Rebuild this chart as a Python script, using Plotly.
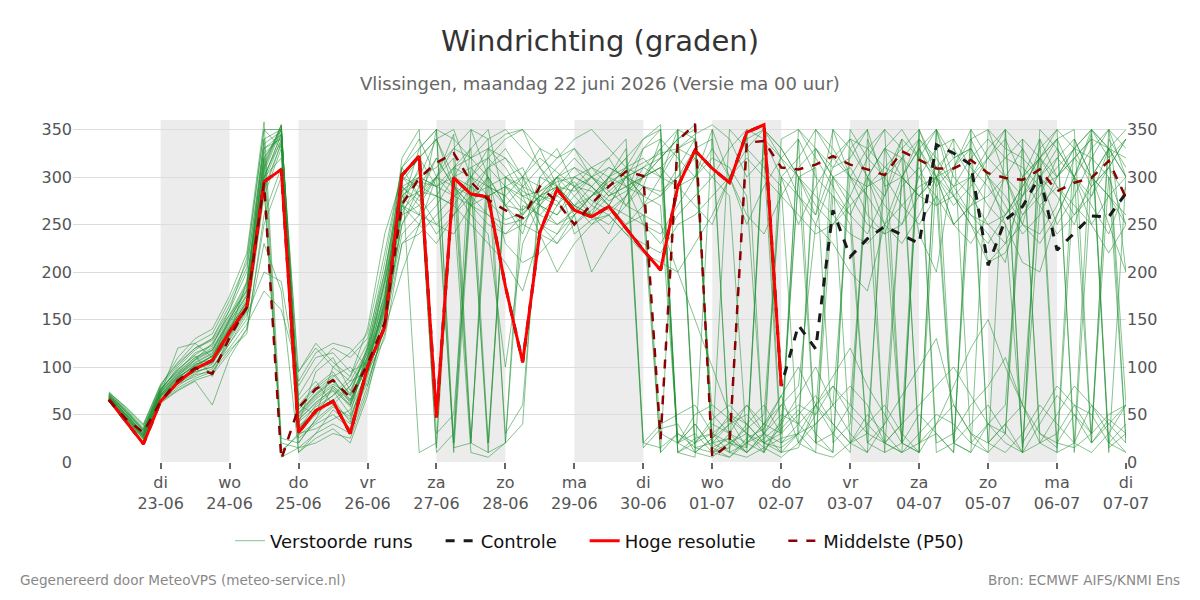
import pandas as pd
import plotly.graph_objects as go

# ---- data ----
times = pd.date_range("2026-06-22 06:00", periods=60, freq="6h")

hoge_resolutie = [66, 43, 19, 64, 84, 98, 107, 137, 163, 295, 308, 31, 54, 64, 30, 100, 142,
                  302, 322, 47, 299, 282, 279, 185, 105, 242, 287, 265, 258, 269, 246, 223, 202,
                  290, 328, 309, 294, 347, 355, 80]
controle = hoge_resolutie[:39] + [80, 144, 119, 265, 216, 235, 248, 239, 230, 334, 325, 313,
                                  207, 255, 269, 301, 223, 241, 259, 258, 283]
middelste = [65, 45, 31, 64, 86, 99, 93, 131, 163, 294, 3, 57, 77, 86, 68, 103, 147,
             271, 299, 315, 325, 295, 276, 265, 257, 290, 274, 250, 272, 290, 306, 301, 24,
             338, 356, 5, 19, 336, 338, 310, 308, 313, 322, 313, 308, 302, 327, 318, 309,
             309, 318, 304, 299, 297, 308, 285, 294, 299, 317, 278]

runs = [
    [68,48,28,70,88,102,112,142,168,302,338,45,62,78,58,108,165, 285,305,15,300,290,275,255,262,280,275,250,265,285,300,310,330,350, 20,30,45,15,350,330,300,260,310,340,300,250,20,330,290,310,340, 350,300,260,280,320,300,345,10,300],
    [72,55,35,78,95,110,120,150,185,320,350,20,45,60,80,115,190, 270,330,350,10,280,300,270,240,300,290,260,280,300,320,15,35,40, 10,25,50,40,60,30,340,300,280,250,20,10,300,330,350,280,260, 240,210,300,340,20,50,30,300,250],
    [65,42,22,66,80,92,95,125,150,280,330,60,80,95,70,120,175, 300,290,280,310,330,20,290,265,285,300,240,255,260,280,330,340,320, 300,350,10,20,40,60,80,250,300,310,280,20,40,350,310,290,300, 330,350,15,270,290,260,280,330,60],
    [70,52,32,75,100,118,130,160,200,340,10,30,50,100,85,95,155, 250,280,320,290,260,240,100,230,270,300,280,260,240,280,300,310,20, 40,15,5,25,35,70,20,40,60,300,330,350,330,240,200,310,350, 20,40,60,300,250,280,320,350,200],
    [67,45,25,68,85,98,105,130,160,290,20,15,30,55,40,85,140, 200,250,300,345,25,290,280,300,320,305,290,260,250,270,290,285,300, 330,340,20,30,10,45,60,50,300,280,250,240,290,310,270,280,250, 210,230,250,320,340,300,270,240,290],
    [73,58,40,82,105,125,135,170,210,350,350,70,100,120,110,130,200, 300,320,340,350,300,330,310,280,270,260,290,300,280,290,300,310,330, 345,355,340,300,320,10,15,60,40,20,30,300,340,320,350,20,10, 40,60,300,320,350,330,290,310,340],
    [64,40,18,62,75,85,60,110,140,250,300,10,25,35,20,70,150, 240,260,280,270,250,230,210,180,240,270,290,310,300,270,260,250,200, 150,100,50,30,20,15,30,40,60,80,60,20,10,350,300,250,270, 300,320,340,20,30,60,50,20,10],
    [69,50,30,74,92,105,115,145,175,310,355,50,70,85,65,100,160, 280,295,290,20,310,320,300,285,275,300,320,300,290,310,320,300,350, 10,5,20,35,50,300,280,260,350,330,300,270,250,280,300,320,330, 300,280,250,230,260,300,330,350,300],
    [71,53,33,76,98,112,90,135,190,330,340,35,55,70,90,125,210, 310,280,250,270,300,10,20,300,330,290,270,250,270,300,280,10,30, 20,40,30,10,25,40,300,310,20,40,300,280,340,10,300,250,230, 260,300,330,30,15,340,300,250,200],
    [66,46,26,69,86,95,100,125,155,200,190,80,110,115,95,105,180, 260,270,240,260,280,290,300,310,270,260,280,300,320,290,250,230,260, 280,300,330,350,340,300,250,290,320,340,330,310,300,280,270,290,320, 340,320,310,290,300,330,350,320,340],
    [68,47,27,72,120,125,110,150,180,320,345,55,75,90,100,80,145, 270,310,10,30,350,300,270,290,310,330,290,270,300,330,20,40,50, 60,30,20,10,30,50,40,20,10,350,320,300,20,50,30,10,340, 300,250,20,50,80,60,30,340,310],
    [70,51,31,73,90,108,125,155,180,340,350,40,95,110,75,115,185, 290,300,310,330,320,340,350,330,310,290,270,260,300,320,340,350,10, 5,350,300,250,290,320,340,20,280,260,300,330,320,300,280,250,270, 280,300,250,240,270,320,300,330,320],
    [67,44,24,70,84,95,100,120,145,180,160,95,125,105,90,140,240, 300,320,290,300,310,290,280,260,280,300,290,285,270,260,250,240,270, 300,320,310,280,20,30,50,70,40,20,10,40,70,100,130,60,30, 20,10,30,60,40,20,10,30,60],
    [72,54,36,77,96,115,122,160,215,350,330,65,85,60,45,100,170, 320,350,30,50,280,310,320,290,250,240,270,290,310,300,290,340,20, 30,10,15,40,20,35,55,30,10,330,350,290,300,340,10,20,300, 270,250,210,200,260,300,350,330,20],
    [65,43,20,65,82,90,98,128,158,300,320,25,40,50,35,90,150, 250,290,320,290,270,280,290,300,250,230,260,280,290,310,300,320,340, 350,10,30,60,40,30,300,270,250,280,320,350,20,10,350,300,280, 250,260,290,320,290,270,250,220,250],
    [74,56,38,80,110,130,140,175,220,358,25,20,45,80,60,110,190, 300,280,300,15,20,330,320,300,290,310,330,300,280,300,330,350,10, 20,45,60,40,20,10,30,350,320,300,290,310,330,350,20,30,60, 80,110,60,20,10,300,250,280,300],
    [69,49,29,71,90,100,112,138,165,295,340,48,68,82,70,105,160, 285,300,290,280,270,260,250,255,270,290,310,290,270,250,260,10,350, 340,20,10,5,15,25,30,10,5,20,40,60,30,10,350,320,330, 20,40,10,350,330,300,280,310,340],
    [66,45,24,64,78,88,95,118,135,260,310,30,35,45,55,95,130, 230,250,270,300,330,350,270,250,240,230,250,270,260,240,230,220,250, 260,280,300,330,350,20,30,60,90,120,80,50,20,10,40,80,120, 150,100,60,30,20,15,30,50,60],
    [71,52,34,79,102,120,128,155,190,315,355,35,60,75,50,120,200, 290,275,300,320,20,10,300,290,280,270,300,310,320,340,20,15,30, 15,20,25,10,30,300,320,350,330,300,280,250,230,260,300,340,20, 40,30,300,320,340,350,20,45,30],
    [68,48,27,71,88,103,108,140,170,320,5,15,20,30,25,75,135, 260,300,340,290,270,250,240,260,280,290,270,260,280,290,300,310,290, 270,250,300,320,300,280,260,240,250,270,290,300,320,20,30,10,350, 320,300,280,300,320,340,300,280,260],
    [70,50,29,75,93,108,118,148,175,305,350,85,115,125,120,100,170, 270,260,350,20,300,280,290,275,260,250,265,280,295,305,315,325,330, 320,300,280,20,10,340,350,330,300,270,20,40,300,280,310,330,300, 210,220,260,290,310,330,320,300,20],
    [67,46,25,67,83,93,103,132,162,285,335,60,50,65,80,110,165, 275,285,280,270,10,5,20,270,260,280,300,290,270,300,290,280,310, 340,10,20,15,350,320,280,250,230,200,180,250,300,330,300,270,290, 320,350,10,40,70,50,20,350,330],
    [73,57,39,81,104,120,130,165,205,330,345,95,120,100,115,135,220, 310,340,300,280,290,310,330,300,270,250,260,280,300,310,270,280,300, 320,50,30,20,30,60,40,330,310,320,350,10,20,340,320,290,260, 250,230,280,310,340,20,60,40,20],
    [64,41,19,63,76,86,92,115,140,230,180,10,30,40,30,80,145, 230,240,260,280,300,320,340,350,310,280,270,280,300,290,280,270,20, 10,25,40,50,30,20,40,60,80,50,30,20,40,60,80,100,70, 40,20,10,20,50,80,60,30,10],
    [69,51,30,73,91,104,114,143,172,308,352,52,72,88,62,112,175, 295,320,340,300,20,310,290,280,285,295,300,290,275,285,300,320,340, 355,15,350,330,310,290,20,10,350,300,260,240,250,300,330,340,310, 290,260,280,330,350,10,300,280,250],
    [72,53,33,76,94,110,118,150,182,325,342,42,58,70,85,118,190, 280,260,250,240,270,300,30,60,280,300,310,300,285,270,300,330,10, 25,30,10,350,10,40,70,100,60,30,10,330,300,280,300,20,10, 350,330,320,300,280,250,300,330,350],
    [66,47,26,69,87,99,107,136,164,290,12,28,42,58,48,92,158, 265,285,300,290,280,260,240,250,275,285,295,275,265,280,310,300,290, 300,330,300,260,240,280,310,330,300,20,50,30,10,20,40,60,30, 10,350,330,300,330,300,20,40,60],
    [70,49,28,72,89,101,111,141,169,298,346,38,52,66,42,102,162, 300,10,20,310,300,290,270,265,280,290,285,300,310,300,280,30,20, 40,15,25,10,340,320,300,20,30,60,300,330,350,320,300,310,330, 300,270,240,260,300,320,340,330,300],
    [67,46,27,70,86,97,104,133,160,288,336,44,63,76,60,104,168, 280,300,290,310,320,300,230,210,220,240,260,200,230,250,270,300,330, 340,20,40,60,30,10,350,320,290,260,240,280,320,340,310,280,300, 320,340,300,270,240,260,290,310,280],
    [71,54,34,77,97,113,124,152,188,335,348,58,78,92,72,122,195, 310,330,350,340,320,330,345,350,330,320,340,350,330,310,340,355,20, 50,60,45,30,15,5,20,50,80,60,40,20,10,30,50,40,20, 10,30,340,320,300,330,350,20,40],
    [68,47,28,71,89,102,111,140,167,300,344,47,66,80,64,106,163, 270,250,230,260,290,20,300,280,240,200,230,250,260,240,220,210,200, 230,260,300,340,350,330,300,280,260,240,230,250,270,290,300,280,250, 230,260,290,320,10,20,350,330,300],
    [69,50,31,74,93,107,117,147,177,312,354,51,71,86,66,111,172, 290,270,300,330,350,340,20,40,300,320,330,310,290,300,310,320,340, 15,10,5,20,40,70,100,60,30,10,340,300,270,250,280,20,40, 60,30,10,340,300,320,340,15,30],
]

legend_names = ["Verstoorde runs", "Controle", "Hoge resolutie", "Middelste (P50)"]

day_names = ["di", "wo", "do", "vr", "za", "zo", "ma", "di", "wo", "do", "vr", "za", "zo", "ma", "di"]
day_dates = ["23-06", "24-06", "25-06", "26-06", "27-06", "28-06", "29-06", "30-06",
             "01-07", "02-07", "03-07", "04-07", "05-07", "06-07", "07-07"]
tick_days = pd.date_range("2026-06-23", periods=15, freq="D")
shaded_days = pd.date_range("2026-06-23", periods=7, freq="2D")

pad = "\u00a0" * 4
fig = go.Figure()

for i, r in enumerate(runs):
    fig.add_trace(go.Scatter(
        x=times, y=r, mode="lines",
        line=dict(color="rgba(34,145,52,0.55)", width=1),
        name=legend_names[0] + pad, legendgroup="runs", showlegend=(i == 0),
        hoverinfo="skip"))

fig.add_trace(go.Scatter(x=times[:len(controle)], y=controle, mode="lines",
                         line=dict(color="#1a1a1a", width=3, dash="dash"),
                         name=legend_names[1] + pad))
fig.add_trace(go.Scatter(x=times[:len(hoge_resolutie)], y=hoge_resolutie, mode="lines",
                         line=dict(color="#ff0000", width=3), name=legend_names[2] + pad))
fig.add_trace(go.Scatter(x=times[:len(middelste)], y=middelste, mode="lines",
                         line=dict(color="#8b0000", width=2.5, dash="dash"), name=legend_names[3]))
# invisible trace to show right-hand axis
fig.add_trace(go.Scatter(x=[times[0]], y=[0], yaxis="y2", mode="lines",
                         line=dict(width=0), showlegend=False, hoverinfo="skip"))

for d in shaded_days:
    fig.add_shape(type="rect", xref="x", yref="y", x0=d, x1=d + pd.Timedelta(days=1),
                  y0=0, y1=360, fillcolor="#ececec", line=dict(width=0), layer="below")

x_start = pd.Timestamp("2026-06-23") - pd.Timedelta(hours=30.5)
x_end = pd.Timestamp("2026-07-07")

fig.update_layout(
    width=1200, height=600,
    paper_bgcolor="white", plot_bgcolor="white",
    margin=dict(l=73, r=74, t=120, b=138),
    font=dict(family="DejaVu Sans", color="#555"),
    title=dict(text="Windrichting (graden)", x=0.5, xanchor="center",
               y=1 - 41 / 600, yanchor="middle", yref="container",
               font=dict(size=29, color="#333")),
    xaxis=dict(range=[x_start, x_end], tickvals=tick_days,
               ticktext=[f"{a}<br>{b}" for a, b in zip(day_names, day_dates)],
               showgrid=False, zeroline=False, showline=False,
               ticks="outside", ticklen=6, tickwidth=2, tickcolor="#666",
               tickfont=dict(size=16, color="#555")),
    yaxis=dict(range=[0, 360], tickvals=[0, 50, 100, 150, 200, 250, 300, 350],
               showgrid=True, gridcolor="#dcdcdc", gridwidth=1, zeroline=False,
               showline=False, tickfont=dict(size=16, color="#555"), ticks=""),
    yaxis2=dict(range=[0, 360], overlaying="y", side="right",
                tickvals=[0, 50, 100, 150, 200, 250, 300, 350],
                showgrid=False, zeroline=False, showline=False,
                tickfont=dict(size=16, color="#555")),
    legend=dict(orientation="h", x=0.5, xanchor="center", y=-0.231, yanchor="middle",
                font=dict(size=18, color="#111"), itemwidth=30, traceorder="normal"),
    showlegend=True,
    annotations=[
        dict(text="Vlissingen, maandag 22 juni 2026 (Versie ma 00 uur)", xref="paper", yref="paper",
             x=0.5, y=(462 - 83) / 342, xanchor="center", yanchor="middle", showarrow=False,
             font=dict(size=18, color="#666")),
        dict(text="Gegenereerd door MeteoVPS (meteo-service.nl)", xref="paper", yref="paper",
             x=(18 - 73) / 1053, y=(462 - 580) / 342, xanchor="left", yanchor="middle",
             showarrow=False, font=dict(size=13.6, color="#888")),
        dict(text="Bron: ECMWF AIFS/KNMI Ens", xref="paper", yref="paper",
             x=(1182 - 73) / 1053, y=(462 - 580) / 342, xanchor="right", yanchor="middle",
             showarrow=False, font=dict(size=13.5, color="#888")),
    ],
)

fig.write_html("out.html")
